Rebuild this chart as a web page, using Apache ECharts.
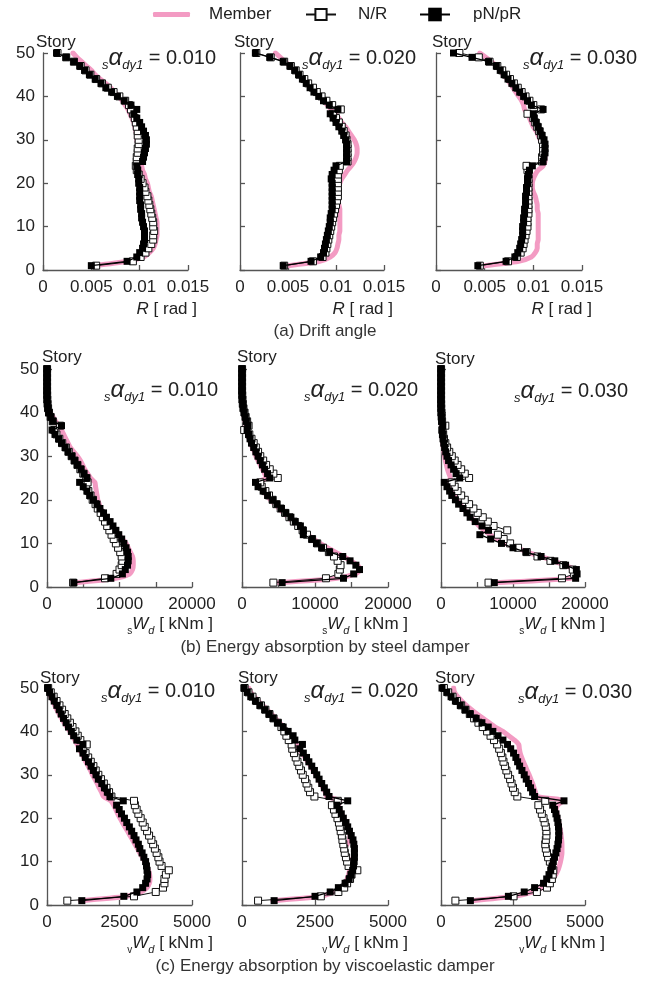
<!DOCTYPE html>
<html><head><meta charset="utf-8">
<script src="https://cdn.jsdelivr.net/npm/echarts@6/dist/echarts.min.js"></script>
<style>html,body{margin:0;padding:0;background:#fff}#c{width:648px;height:981px}</style>
</head><body><div id="c"></div>
<script>
// ---------------- DATA ----------------
const stories = [1,2,3,4,5,6,7,8,9,10,11,12,13,14,15,16,17,18,19,20,21,22,23,24,25,26,27,28,29,30,31,32,33,34,35,36,37,38,39,40,41,42,43,44,45,46,47,48,49,50];

const seriesNames = ['Member', 'N/R', 'pN/pR'];
const alphaLabels = ['0.010', '0.020', '0.030'];
const rowTitles = ['(a) Drift angle', '(b) Energy absorption by steel damper', '(c) Energy absorption by viscoelastic damper'];
const driftTicks = [0, 0.005, 0.01, 0.015];
const steelTicks = [0, 10000, 20000];
const viscoTicks = [0, 2500, 5000];

// (a) Drift angle R [rad]
const drift010Member = [0.0052,0.0088,0.0104,0.0110,0.0114,0.0116,0.0117,0.0118,0.0118,0.0118, 0.0118,0.0117,0.0116,0.0115,0.0114,0.0113,0.0112,0.0110,0.0109,0.0108, 0.0106,0.0105,0.0103,0.0102,0.0101,0.0100,0.0099,0.0098,0.0098,0.0097, 0.0097,0.0096,0.0095,0.0094,0.0092,0.0090,0.0088,0.0085,0.0082,0.0078, 0.0074,0.0070,0.0065,0.0059,0.0054,0.0050,0.0045,0.0040,0.0035,0.0031];
const drift010NR = [0.0055,0.0093,0.0101,0.0106,0.0109,0.0112,0.0114,0.0114,0.0115,0.0114, 0.0114,0.0113,0.0112,0.0111,0.0110,0.0109,0.0108,0.0106,0.0105,0.0103, 0.0101,0.0099,0.0097,0.0096,0.0097,0.0097,0.0098,0.0098,0.0099,0.0099, 0.0098,0.0098,0.0097,0.0096,0.0095,0.0093,0.0091,0.0089,0.0085,0.0079, 0.0073,0.0067,0.0061,0.0055,0.0049,0.0044,0.0039,0.0032,0.0024,0.0015];
const drift010PN = [0.0050,0.0087,0.0097,0.0100,0.0103,0.0104,0.0105,0.0105,0.0105,0.0104, 0.0103,0.0102,0.0102,0.0101,0.0101,0.0100,0.0100,0.0100,0.0100,0.0099, 0.0099,0.0098,0.0098,0.0097,0.0103,0.0104,0.0105,0.0106,0.0107,0.0107, 0.0106,0.0104,0.0102,0.0100,0.0097,0.0094,0.0097,0.0091,0.0084,0.0077, 0.0071,0.0065,0.0060,0.0054,0.0048,0.0043,0.0038,0.0032,0.0024,0.0014];

const drift020Member = [0.0050,0.0083,0.0094,0.0099,0.0101,0.0102,0.0103,0.0103,0.0104,0.0104, 0.0104,0.0104,0.0104,0.0104,0.0103,0.0102,0.0102,0.0102,0.0103,0.0104, 0.0106,0.0109,0.0112,0.0116,0.0119,0.0121,0.0122,0.0122,0.0121,0.0119, 0.0116,0.0113,0.0110,0.0106,0.0103,0.0099,0.0095,0.0091,0.0087,0.0083, 0.0078,0.0074,0.0070,0.0066,0.0061,0.0057,0.0052,0.0047,0.0042,0.0037];
const drift020NR = [0.0046,0.0076,0.0086,0.0089,0.0090,0.0091,0.0092,0.0093,0.0094,0.0095, 0.0096,0.0097,0.0098,0.0099,0.0100,0.0101,0.0102,0.0102,0.0102,0.0102, 0.0102,0.0102,0.0103,0.0104,0.0112,0.0112,0.0112,0.0112,0.0112,0.0111, 0.0110,0.0108,0.0106,0.0103,0.0100,0.0097,0.0105,0.0096,0.0090,0.0085, 0.0080,0.0076,0.0071,0.0067,0.0062,0.0058,0.0053,0.0046,0.0032,0.0017];
const drift020PN = [0.0045,0.0074,0.0084,0.0087,0.0088,0.0089,0.0090,0.0091,0.0092,0.0093, 0.0094,0.0094,0.0095,0.0096,0.0096,0.0096,0.0096,0.0096,0.0096,0.0096, 0.0095,0.0096,0.0098,0.0100,0.0111,0.0111,0.0111,0.0111,0.0111,0.0110, 0.0108,0.0106,0.0103,0.0100,0.0097,0.0094,0.0102,0.0093,0.0087,0.0082, 0.0077,0.0073,0.0069,0.0065,0.0061,0.0057,0.0052,0.0045,0.0031,0.0016];

const drift030Member = [0.0050,0.0085,0.0098,0.0102,0.0104,0.0104,0.0105,0.0105,0.0105,0.0105, 0.0105,0.0105,0.0105,0.0104,0.0104,0.0103,0.0102,0.0100,0.0099,0.0099, 0.0100,0.0102,0.0105,0.0110,0.0112,0.0112,0.0112,0.0111,0.0109,0.0107, 0.0105,0.0103,0.0100,0.0098,0.0096,0.0094,0.0091,0.0090,0.0088,0.0085, 0.0082,0.0079,0.0076,0.0073,0.0069,0.0066,0.0062,0.0057,0.0051,0.0045];
const drift030NR = [0.0045,0.0074,0.0083,0.0087,0.0089,0.0090,0.0091,0.0092,0.0093,0.0094, 0.0094,0.0094,0.0095,0.0095,0.0095,0.0095,0.0095,0.0095,0.0095,0.0095, 0.0095,0.0095,0.0094,0.0093,0.0109,0.0109,0.0110,0.0110,0.0110,0.0109, 0.0108,0.0106,0.0104,0.0102,0.0100,0.0094,0.0108,0.0100,0.0096,0.0092, 0.0088,0.0084,0.0080,0.0076,0.0072,0.0068,0.0063,0.0055,0.0044,0.0024];
const drift030PN = [0.0043,0.0072,0.0081,0.0084,0.0086,0.0087,0.0088,0.0089,0.0089,0.0089, 0.0090,0.0090,0.0091,0.0091,0.0092,0.0092,0.0092,0.0093,0.0093,0.0094, 0.0094,0.0095,0.0096,0.0099,0.0110,0.0111,0.0112,0.0112,0.0112,0.0111, 0.0109,0.0107,0.0105,0.0103,0.0101,0.0100,0.0110,0.0098,0.0094,0.0090, 0.0086,0.0082,0.0078,0.0074,0.0070,0.0066,0.0062,0.0054,0.0037,0.0018];

// (b) Energy absorption by steel damper sWd [kNm]
const steel010Member = [3900,9500,11400,11800,11900,11900,11800,11500,11200,10900, 10400,9900,9400,9000,8500,8100,7700,7400,7200,7000, 6900,6800,6700,6600,6000,5600,5200,4900,4600,4200, 3700,3200,2900,2600,2300,2000,1600,1200,850,450, 200,80,30,10,0,0,0,0,0,0];
const steel010NR = [3600,8000,9600,10000,10300,10400,10300,10100,9800,9500, 9200,8900,8600,8300,8000,7700,7400,7000,6700,6300, 6000,5700,5400,5600,5400,5000,4600,4200,3800,3400, 3000,2600,2100,1700,1300,1000,1800,800,500,280, 150,80,40,20,10,10,10,10,10,10];
const steel010PN = [3700,8800,10400,10800,11100,11200,11200,11100,10900,10600, 10300,9900,9500,9100,8700,8200,7800,7300,6900,6400, 5900,5500,5000,4500,5500,5100,4700,4200,3800,3400, 2900,2500,2000,1600,1100,700,2000,800,500,250, 120,60,30,10,10,10,10,10,10,10];

const steel020Member = [5000,13000,15500,16200,15800,14900,13900,12800,11700,10700, 9800,9000,8300,7600,7000,6300,5700,5100,4500,3900, 3400,2900,2500,2200,3300,3100,2800,2500,2200,1900, 1700,1400,1200,1000,850,700,550,420,300,200, 120,60,30,10,0,0,0,0,0,0];
const steel020NR = [4300,11500,13200,13400,13500,13100,12600,11900,11100,10300, 9600,8900,8300,7700,7100,6500,5900,5300,4700,4200, 3700,3200,2700,2500,4900,4300,3800,3300,2900,2500, 2200,1900,1600,1300,1000,300,900,700,500,350, 200,110,60,30,10,10,10,10,10,10];
const steel020PN = [5500,13900,15300,16100,15600,14800,13800,12000,10900,10200, 9600,8400,8400,8000,7300,6700,6000,5400,4800,4200, 3500,2900,2200,1850,3800,3500,3100,2800,2500,2200, 1900,1600,1300,1100,900,700,800,600,450,300, 180,100,50,20,10,10,10,10,10,10];

const steel030Member = [7500,18000,18900,18600,17200,15600,13800,12000,10500,9000, 7800,6800,6000,5300,4700,4100,3600,3100,2600,2200, 1800,1500,1200,1000,1300,1100,900,750,600,500, 400,320,250,180,130,90,60,40,20,0, 0,0,0,0,0,0,0,0,0,0];
const steel030NR = [6600,16800,18500,18300,17000,15200,13400,11900,10700,9600, 8700,7900,9200,7300,6500,5800,5100,4500,3900,3300, 2800,2300,1900,1500,3900,3300,2800,2300,1900,1500, 1150,850,600,420,300,200,600,150,100,60, 30,20,10,10,10,10,10,10,10,10];
const steel030PN = [7400,18700,18900,18800,17300,15800,13900,11800,10000,8400, 6900,5400,6600,5700,4750,4050,3600,3050,2450,2000, 1500,1200,830,460,2600,2100,1750,1400,1050,830, 650,500,380,280,200,150,250,100,60,40, 20,10,10,10,10,10,10,10,10,10];

// (c) Energy absorption by viscoelastic damper vWd [kNm]
const visco010Member = [1150,2750,3250,3450,3530,3550,3540,3500,3440,3370, 3290,3200,3120,3030,2950,2860,2780,2690,2600,2520, 2440,2370,2300,2200,1950,1880,1800,1730,1650,1570, 1500,1420,1340,1270,1190,1110,1040,960,880,790, 690,590,500,420,340,270,200,130,70,20];
const visco010NR = [700,3000,3750,4000,4050,4050,4100,4200,3950,3880, 3840,3780,3720,3660,3600,3520,3450,3370,3300,3230, 3150,3090,3030,3000,2220,2140,2050,1960,1860,1770, 1680,1600,1510,1420,1330,1250,1370,1150,1060,980, 880,790,700,610,520,430,330,230,130,40];
const visco010PN = [1200,2650,3100,3300,3400,3450,3470,3450,3430,3400, 3340,3280,3200,3150,3070,3000,2920,2840,2750,2670, 2570,2490,2400,2630,2170,2080,1980,1890,1770,1690, 1600,1520,1430,1320,1240,1120,1240,1030,920,840, 740,660,570,490,420,340,250,170,90,20];

const visco020Member = [1050,2700,3150,3400,3530,3600,3650,3680,3690,3680, 3620,3520,3520,3600,3680,3700,3680,3630,3560,3490, 3420,3350,3300,3350,2900,2850,2780,2700,2620,2530, 2440,2350,2250,2160,2060,1960,1860,1760,1650,1540, 1420,1290,1150,1010,860,710,560,420,300,230];
const visco020NR = [550,2700,3300,3500,3600,3700,3750,3950,3650,3600, 3560,3520,3500,3470,3440,3420,3380,3350,3320,3270, 3200,3150,3080,3280,2480,2330,2270,2210,2160,2080, 2020,1960,1900,1840,1780,1720,1700,1600,1520,1450, 1350,1230,1080,940,800,650,500,360,220,90];
const visco020PN = [1100,2500,3020,3300,3530,3670,3740,3790,3820,3840, 3850,3850,3850,3830,3800,3740,3680,3620,3560,3470, 3400,3330,3250,3620,2980,2900,2820,2730,2640,2560, 2480,2390,2290,2210,2100,1980,2070,1810,1750,1580, 1410,1220,1070,930,780,610,460,300,180,70];

const visco030Member = [1050,2550,3200,3500,3720,3880,3980,4060,4110,4150, 4180,4200,4200,4200,4190,4170,4150,4120,4090,4060, 4030,4000,4050,4250,3330,3280,3230,3180,3120,3060, 2990,2930,2860,2800,2750,2720,2700,2550,2350,2150, 1880,1680,1460,1250,1060,880,720,580,470,440];
const visco030NR = [500,2520,3330,3680,3780,3850,3880,3900,3850,3780, 3720,3680,3640,3620,3640,3660,3660,3640,3600,3560, 3500,3440,3380,3620,2650,2560,2500,2450,2400,2330, 2270,2220,2170,2130,2080,2020,1950,1840,1720,1600, 1450,1300,1150,1000,850,700,550,400,250,100];
const visco030PN = [1020,2340,2890,3250,3560,3670,3750,3810,3860,3900, 3940,3990,4030,4060,4080,4090,4090,4080,4060,4030, 3990,3940,3880,4270,3250,3180,3110,3040,2960,2890, 2810,2730,2660,2600,2520,2420,2310,2150,1980,1800, 1640,1420,1220,1010,840,670,500,350,200,35];

// ---------------- STYLE / LAYOUT ----------------
const FF = "'Liberation Sans',Arial,sans-serif";
const FS = 17;
const ANN = 20;
const SUB = 13;
const ALPHA = 24;
const TXT = '#222';
const PINK = '#F39BC3';
const AXIS = '#555';

const panelData = [
  [drift010Member, drift010NR, drift010PN], [drift020Member, drift020NR, drift020PN], [drift030Member, drift030NR, drift030PN],
  [steel010Member, steel010NR, steel010PN], [steel020Member, steel020NR, steel020PN], [steel030Member, steel030NR, steel030PN],
  [visco010Member, visco010NR, visco010PN], [visco020Member, visco020NR, visco020PN], [visco030Member, visco030NR, visco030PN]
];
const gridBoxes = [
  [43,53,145,217],[240,53,144,217],[436,53,146,217],
  [47,369,145,218],[242,369,146,218],[441,369,144,218],
  [47,688,145,217],[242,688,146,217],[441,688,144,217]
];
const rowAxes = [
  {ticks: driftTicks, interval: 0.005, fmt: v => String(+(+v).toFixed(3))},
  {ticks: steelTicks, interval: 5000, fmt: v => (Math.abs(v % 10000) < 1e-6 ? String(v) : '')},
  {ticks: viscoTicks, interval: 2500, fmt: v => String(v)}
];
const annotPos = [[216,58],[416,58],[637,58],[218,390],[418,390],[628,391],[215,691],[418,691],[632,692]];
const axisNamePos = [[197,309],[393,309],[592,309],[213,624],[408,624],[605,624],[213,943],[408,943],[605,943]];
const storyPos = [[36,42],[234,42],[432,42],[42,357],[237,357],[435,359],[40,678],[238,678],[435,678]];
const titlePos = [[325,331],[325,647],[325,966]];

const grids = [], xAxes = [], yAxes = [], series = [], graphics = [];
for (let i = 0; i < 9; i++) {
  const row = Math.floor(i / 3), col = i % 3;
  const b = gridBoxes[i];
  grids.push({left: b[0], top: b[1], width: b[2], height: b[3], containLabel: false, outerBoundsMode: 'none'});
  const ra = rowAxes[row];
  xAxes.push({
    type: 'value', gridIndex: i, min: ra.ticks[0], max: ra.ticks[ra.ticks.length - 1], interval: ra.interval,
    axisLine: {show: true, onZero: false, lineStyle: {color: AXIS, width: 1.3}},
    axisTick: {show: true, inside: true, length: 5, lineStyle: {color: AXIS, width: 1.3}},
    splitLine: {show: false},
    axisLabel: {show: true, margin: 9, color: TXT, fontSize: FS, fontFamily: FF, formatter: ra.fmt, showMinLabel: true, showMaxLabel: true}
  });
  yAxes.push({
    type: 'value', gridIndex: i, min: 0, max: 50, interval: 10,
    axisLine: {show: true, onZero: false, lineStyle: {color: AXIS, width: 1.3}},
    axisTick: {show: true, inside: true, length: 5, lineStyle: {color: AXIS, width: 1.3}},
    splitLine: {show: false},
    axisLabel: {show: col === 0, margin: 8, color: TXT, fontSize: FS, fontFamily: FF}
  });
  const [mem, nr, pn] = panelData[i];
  const zip = arr => arr.map((v, k) => [v, stories[k]]);
  series.push({
    type: 'line', name: seriesNames[0], xAxisIndex: i, yAxisIndex: i, data: zip(mem),
    symbol: 'none', showSymbol: false, smooth: 0.25, color: PINK,
    lineStyle: {color: PINK, width: 5, cap: 'round', join: 'round'}, itemStyle: {color: PINK},
    z: 2, silent: true, emphasis: {disabled: true}
  });
  series.push({
    type: 'line', name: seriesNames[1], xAxisIndex: i, yAxisIndex: i, data: zip(nr),
    symbol: 'rect', symbolSize: 7, showSymbol: true, showAllSymbol: true, color: '#111',
    lineStyle: {color: '#111', width: 1}, itemStyle: {color: '#fff', borderColor: '#111', borderWidth: 1},
    z: 3, silent: true, emphasis: {disabled: true}
  });
  series.push({
    type: 'line', name: seriesNames[2], xAxisIndex: i, yAxisIndex: i, data: zip(pn),
    symbol: 'rect', symbolSize: 7, showSymbol: true, showAllSymbol: true, color: '#000',
    lineStyle: {color: '#000', width: 1.3}, itemStyle: {color: '#000', borderColor: '#000', borderWidth: 0},
    z: 4, silent: true, emphasis: {disabled: true}
  });

  graphics.push({type: 'text', x: storyPos[i][0], y: storyPos[i][1], z: 10,
    style: {text: 'Story', fontSize: FS, fontFamily: FF, fill: TXT, align: 'left', verticalAlign: 'middle'}});
  graphics.push({type: 'text', x: annotPos[i][0], y: annotPos[i][1], z: 10,
    style: {
      text: '{s|s}{a|α}{d|dy1}{e| = ' + alphaLabels[col] + '}', align: 'right', verticalAlign: 'middle',
      rich: {
        s: {fontSize: SUB, fontFamily: FF, fontStyle: 'italic', fill: TXT, verticalAlign: 'bottom', lineHeight: SUB + 2},
        a: {fontSize: ALPHA, fontFamily: FF, fontStyle: 'italic', fill: TXT, lineHeight: 28},
        d: {fontSize: SUB, fontFamily: FF, fontStyle: 'italic', fill: TXT, verticalAlign: 'bottom', lineHeight: SUB + 2},
        e: {fontSize: ANN, fontFamily: FF, fill: TXT, lineHeight: 28}
      }
    }});
  let nameText;
  if (row === 0) nameText = '{i|R}{n| [ rad ]}';
  else nameText = '{s|' + (row === 1 ? 's' : 'v') + '}{i|W}{d|d}{n| [ kNm ]}';
  graphics.push({type: 'text', x: axisNamePos[i][0], y: axisNamePos[i][1], z: 10,
    style: {
      text: nameText, align: 'right', verticalAlign: 'middle',
      rich: {
        i: {fontSize: FS, fontFamily: FF, fontStyle: 'italic', fill: TXT, lineHeight: 24},
        n: {fontSize: FS, fontFamily: FF, fill: TXT, lineHeight: 24},
        s: {fontSize: 10, fontFamily: FF, fill: TXT, verticalAlign: 'bottom', lineHeight: 12},
        d: {fontSize: 11, fontFamily: FF, fontStyle: 'italic', fill: TXT, verticalAlign: 'bottom', lineHeight: 12}
      }
    }});
}
for (let r = 0; r < 3; r++) {
  graphics.push({type: 'text', x: titlePos[r][0], y: titlePos[r][1], z: 10,
    style: {text: rowTitles[r], fontSize: FS, fontFamily: FF, fill: '#333', align: 'center', verticalAlign: 'middle'}});
}

const legendText = pad => ({fontSize: FS, fontFamily: FF, color: TXT, padding: [0, 0, 0, pad]});
const option = {
  animation: false,
  backgroundColor: '#fff',
  grid: grids, xAxis: xAxes, yAxis: yAxes, series: series,
  legend: [
    {data: [{name: 'Member', icon: 'roundRect'}], left: 153, top: 6, padding: 0, itemWidth: 37, itemHeight: 5,
      itemStyle: {color: PINK}, textStyle: legendText(14), selectedMode: false},
    {data: ['N/R'], left: 305, top: 6, padding: 0, itemWidth: 30, itemHeight: 14, textStyle: legendText(17), selectedMode: false},
    {data: ['pN/pR'], left: 419, top: 6, padding: 0, itemWidth: 30, itemHeight: 17, textStyle: legendText(18), selectedMode: false}
  ],
  graphic: graphics
};
const chart = echarts.init(document.getElementById('c'), null, {renderer: 'canvas'});
chart.setOption(option);
</script>
</body></html>
